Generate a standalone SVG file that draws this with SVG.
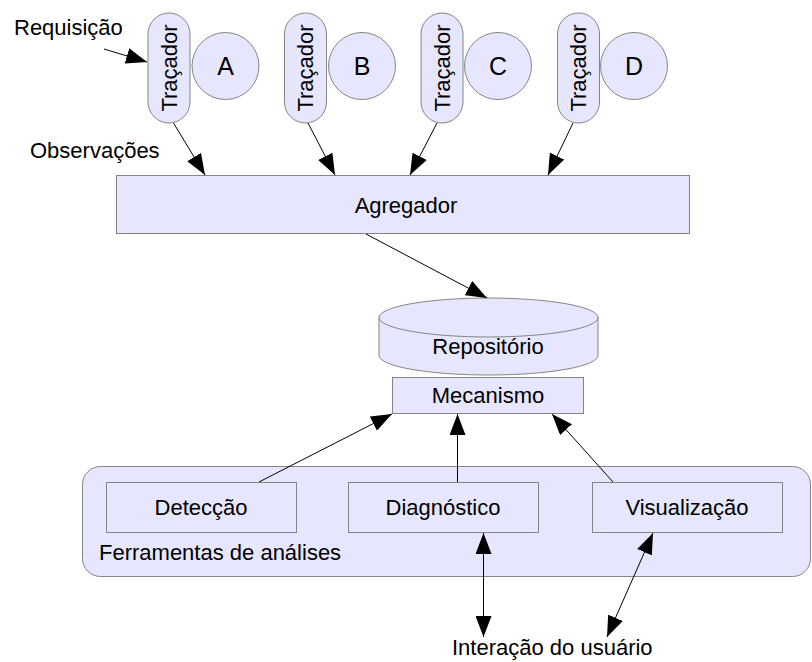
<svg xmlns="http://www.w3.org/2000/svg" width="812" height="662" viewBox="0 0 812 662">
  <style>
    .shape { fill: #e6e6ff; stroke: #858585; stroke-width: 1; }
    .lbl { font-family: "Liberation Sans", Arial, sans-serif; font-size: 22px; fill: #000; }
    .mid { text-anchor: middle; }
    .big { font-size: 25px; }
    .edge { fill: none; stroke: #000; stroke-width: 1; }
    .arrow { marker-end: url(#head); }
    .both { marker-start: url(#head); marker-end: url(#head); }
  </style>
  <defs>
    <marker id="head" markerUnits="userSpaceOnUse" markerWidth="21" markerHeight="16" refX="21" refY="8" orient="auto-start-reverse">
      <path d="M0,0 L21,8 L0,16 Z" fill="#000"/>
    </marker>
  </defs>

  <rect width="812" height="662" fill="#fff"/>

  <!-- free labels -->
  <text class="lbl" x="14" y="35">Requisição</text>
  <text class="lbl" x="30" y="158">Observações</text>
  <text class="lbl" x="452" y="655">Interação do usuário</text>

  <!-- tracers with their components -->
  <g id="tracer-a">
    <rect class="shape" x="148" y="13" width="42" height="110" rx="21"/>
    <text class="lbl mid" transform="translate(169,68) rotate(-90)" y="7.5">Traçador</text>
    <circle class="shape" cx="225.5" cy="66" r="33.5"/>
    <text class="lbl big mid" x="225.5" y="75">A</text>
  </g>
  <g id="tracer-b">
    <rect class="shape" x="284.5" y="13" width="42" height="110" rx="21"/>
    <text class="lbl mid" transform="translate(305.5,68) rotate(-90)" y="7.5">Traçador</text>
    <circle class="shape" cx="362" cy="66" r="33.5"/>
    <text class="lbl big mid" x="362" y="75">B</text>
  </g>
  <g id="tracer-c">
    <rect class="shape" x="421" y="13" width="42" height="110" rx="21"/>
    <text class="lbl mid" transform="translate(442,68) rotate(-90)" y="7.5">Traçador</text>
    <circle class="shape" cx="498" cy="66" r="33.5"/>
    <text class="lbl big mid" x="498" y="75">C</text>
  </g>
  <g id="tracer-d">
    <rect class="shape" x="557.5" y="13" width="42" height="110" rx="21"/>
    <text class="lbl mid" transform="translate(578.5,68) rotate(-90)" y="7.5">Traçador</text>
    <circle class="shape" cx="634" cy="66" r="33.5"/>
    <text class="lbl big mid" x="634" y="75">D</text>
  </g>

  <g id="agregador">
    <rect class="shape" x="116.5" y="175.5" width="573" height="58"/>
    <text class="lbl mid" x="406" y="213">Agregador</text>
  </g>

  <g id="repositorio">
    <path class="shape" d="M379,317.5 A109.5,19.5 0 0 1 598,317.5 L598,355.5 A109.5,19.5 0 0 1 379,355.5 Z"/>
    <path fill="none" stroke="#858585" d="M379,317.5 A109.5,19.5 0 0 0 598,317.5"/>
    <text class="lbl mid" x="488" y="354">Repositório</text>
  </g>

  <g id="mecanismo">
    <rect class="shape" x="392.5" y="377.5" width="191" height="36"/>
    <text class="lbl mid" x="488" y="403">Mecanismo</text>
  </g>

  <g id="ferramentas">
    <rect class="shape" x="82.5" y="466.5" width="728" height="110" rx="18"/>
    <text class="lbl" x="99" y="560">Ferramentas de análises</text>
  </g>
  <g id="deteccao">
    <rect class="shape" x="106.5" y="482.5" width="190" height="50"/>
    <text class="lbl mid" x="201" y="515">Detecção</text>
  </g>
  <g id="diagnostico">
    <rect class="shape" x="348.5" y="482.5" width="190" height="50"/>
    <text class="lbl mid" x="443" y="515">Diagnóstico</text>
  </g>
  <g id="visualizacao">
    <rect class="shape" x="592.5" y="482.5" width="190" height="50"/>
    <text class="lbl mid" x="687" y="515">Visualização</text>
  </g>

  <g id="connectors">
    <line class="edge arrow" x1="104" y1="49" x2="147" y2="62"/>
    <line class="edge arrow" x1="173.5" y1="123" x2="205" y2="175"/>
    <line class="edge arrow" x1="308" y1="123" x2="335" y2="175"/>
    <line class="edge arrow" x1="437" y1="123" x2="410" y2="175"/>
    <line class="edge arrow" x1="573" y1="123" x2="548" y2="175"/>
    <line class="edge arrow" x1="366" y1="234" x2="487" y2="298"/>
    <line class="edge arrow" x1="259" y1="482" x2="392" y2="414"/>
    <line class="edge arrow" x1="457.5" y1="482" x2="457.5" y2="414"/>
    <line class="edge arrow" x1="613" y1="482" x2="552" y2="414"/>
    <line class="edge both" x1="483.5" y1="533" x2="483.5" y2="637"/>
    <line class="edge both" x1="653" y1="533" x2="607" y2="637"/>
  </g>
</svg>
